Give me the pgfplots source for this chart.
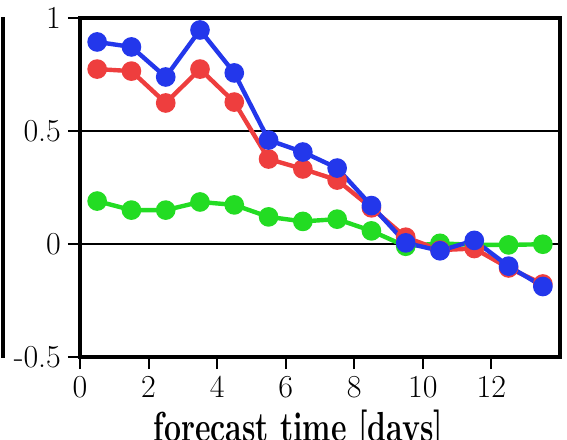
\documentclass[border=0pt]{standalone}
\usepackage{pgfplots}
\pgfplotsset{compat=1.18}
\usepackage{graphicx}

\definecolor{cblue}{RGB}{35,55,235}
\definecolor{cred}{RGB}{238,62,62}
\definecolor{cgreen}{RGB}{35,220,35}

\begin{document}
\begin{tikzpicture}
% crop like the reference (1px = 0.5pt)
\clip (-40pt,-41pt) rectangle (243.5pt,178.5pt);
% edge of the neighbouring panel
\draw[line width=2.2pt] (-38.6pt,-0.3pt) -- (-38.6pt,170pt);
\begin{axis}[
    at={(0,0)}, anchor=south west,
    width=240pt, height=169.5pt, scale only axis,
    xmin=0, xmax=14, ymin=-0.5, ymax=1,
    xtick={0,2,...,12}, ytick={-0.5,0,0.5,1},
    xtick pos=bottom, ytick pos=left,
    axis line style={line width=2pt},
    tick align=outside,
    major tick length=6pt,
    tick style={black, line width=1pt},
    ymajorgrids,
    major grid style={black, line width=0.6pt},
    /pgf/number format/assume math mode=true,
    ticklabel style={font=\fontsize{16}{16}\selectfont},
    xlabel={\scalebox{0.72}[1]{forecast time [days]}},
    xlabel style={at={(axis description cs:0.455,0)}, anchor=north,
                  yshift=-23pt, font=\fontsize{21}{21}\selectfont\bfseries},
    every axis plot/.append style={line width=2.2pt, mark=*, mark size=3.8pt},
]
\addplot[cgreen, mark options={fill=cgreen}] coordinates {
(0.5,0.19) (1.5,0.15) (2.5,0.15) (3.5,0.186) (4.5,0.173) (5.5,0.12) (6.5,0.10)
(7.5,0.11) (8.5,0.058) (9.5,-0.01) (10.5,0.003) (11.5,-0.004) (12.5,-0.004) (13.5,-0.001)};
\addplot[cred, mark options={fill=cred}] coordinates {
(0.5,0.774) (1.5,0.765) (2.5,0.624) (3.5,0.774) (4.5,0.628) (5.5,0.376) (6.5,0.332)
(7.5,0.283) (8.5,0.16) (9.5,0.03) (10.5,-0.027) (11.5,-0.02) (12.5,-0.106) (13.5,-0.177)};
\addplot[cblue, mark options={fill=cblue}] coordinates {
(0.5,0.894) (1.5,0.872) (2.5,0.739) (3.5,0.947) (4.5,0.757) (5.5,0.46) (6.5,0.407)
(7.5,0.336) (8.5,0.17) (9.5,0.005) (10.5,-0.03) (11.5,0.016) (12.5,-0.098) (13.5,-0.188)};
\end{axis}
\end{tikzpicture}
\end{document}
